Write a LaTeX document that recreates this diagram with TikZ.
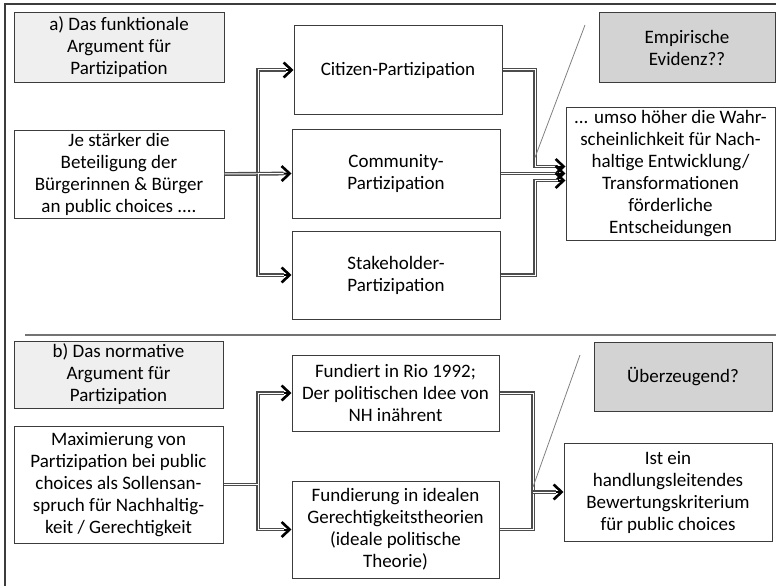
\documentclass[tikz,border=0pt]{standalone}
\usepackage{fontspec}
\setmainfont{Carlito}
\usetikzlibrary{arrows.meta,shadows}

\definecolor{rahmen}{HTML}{3C3C3C}
\definecolor{hell}{HTML}{EFEFEF}
\definecolor{dunkel}{HTML}{D3D3D3}

\tikzset{
	kasten/.style={draw=rahmen, line width=1pt, fill=white, align=center, inner sep=2pt,
		drop shadow={opacity=0.25, shadow xshift=1.2pt, shadow yshift=-1.2pt}},
	titel/.style={kasten, fill=hell},
	frage/.style={kasten, fill=dunkel},
	leitung/.style={draw=black!70, double=white, double distance=1pt, line width=1.4pt},
	pfeil/.style={draw=black, line width=2pt,
		-{Straight Barb[length=8pt, width=15pt, line width=2.6pt]},
		postaction={leitung, -, shorten >=8pt}},
	zeiger/.style={draw=black!50, line width=0.8pt},
}

\begin{document}
\begin{tikzpicture}[x=1pt, y=-1pt, font=\fontsize{19}{22}\selectfont]
		\useasboundingbox (0,0) rectangle (776,586);
		\draw[rahmen, line width=1.2pt] (5,4) rectangle (790,600);
		
		% a) funktionales Argument
		\node[titel, minimum width=210, minimum height=69] (a) at (119,47.5)
			{a) Das funktionale\\Argument für\\Partizipation};
		\node[kasten, minimum width=210, minimum height=88] (je) at (119,174)
			{Je stärker die\\Beteiligung der\\Bürgerinnen \& Bürger\\an public choices ....};
		\node[kasten, minimum width=208, minimum height=88] (cit) at (398,70)
			{Citizen-Partizipation};
		\node[kasten, minimum width=208, minimum height=89] (com) at (396,173.5)
			{Community-\\Partizipation};
		\node[kasten, minimum width=208, minimum height=88] (stk) at (396,275)
			{Stakeholder-\\Partizipation};
		\node[frage, minimum width=176, minimum height=69] (emp) at (687,47.5)
			{Empirische\\Evidenz??};
		\node[kasten, minimum width=209, minimum height=133] (umso) at (670.5,173.5)
			{... umso höher die Wahr-\\scheinlichkeit für Nach-\\haltige Entwicklung/\\Transformationen\\förderliche\\Entscheidungen};
		
		\coordinate (ja) at (258,174);
		\coordinate (jb) at (535,173.5);
		\coordinate (za) at (585,25);
		\draw[pfeil] (je.east) -- (ja) |- (cit.west);
		\draw[pfeil] (je.east) -- (com.west);
		\draw[pfeil] (ja) |- (stk.west);
		\draw[pfeil] (cit.east) -| ([yshift=7pt]jb) -- ([yshift=7pt]umso.west);
		\draw[pfeil] (com.east) -- (umso.west);
		\draw[pfeil] (stk.east) -| ([yshift=-7pt]jb) -- ([yshift=-7pt]umso.west);
		\draw[zeiger] ([yshift=16pt]jb) -- (za);
		
		\draw[black!55, line width=2pt] (25,335) -- (776,335);
		
		% b) normatives Argument
		\node[titel, minimum width=209, minimum height=67] (b) at (118.5,374.5)
			{b) Das normative\\Argument für\\Partizipation};
		\node[kasten, minimum width=209, minimum height=117] (max) at (118.5,484.5)
			{Maximierung von\\Partizipation bei public\\choices als Sollensan-\\spruch für Nachhaltig-\\keit / Gerechtigkeit};
		\node[kasten, minimum width=207, minimum height=76] (fun) at (395.5,393)
			{Fundiert in Rio 1992;\\Der politischen Idee von\\NH inährent};
		\node[kasten, minimum width=207, minimum height=97] (fdg) at (395.5,529.5)
			{Fundierung in idealen\\Gerechtigkeitstheorien\\(ideale politische\\Theorie)};
		\node[frage, minimum width=178, minimum height=69] (ueb) at (683,376.5)
			{Überzeugend?};
		\node[kasten, minimum width=208, minimum height=98] (ist) at (668,492)
			{Ist ein\\handlungsleitendes\\Bewertungskriterium\\für public choices};
		
		\coordinate (jc) at (258,484.5);
		\coordinate (jd) at (533,492);
		\coordinate (zb) at (580,355);
		\draw[pfeil] (max.east) -- (jc) |- (fun.west);
		\draw[pfeil] (jc) |- (fdg.west);
		\draw[leitung] (fun.east) -| (jd);
		\draw[leitung] (fdg.east) -| (jd);
		\draw[pfeil] (jd) -- (ist.west);
		\draw[zeiger] ([yshift=5pt]jd) -- (zb);
	\end{tikzpicture}
\end{document}
